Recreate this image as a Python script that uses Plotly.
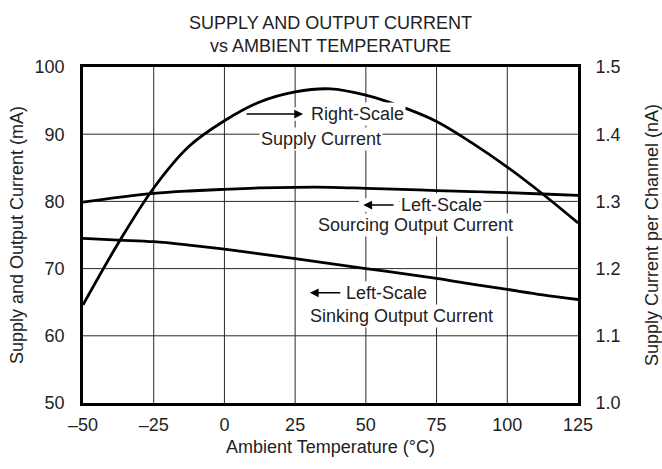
import plotly.graph_objects as go

# Ambient temperature (°C)
temperature = [-50, -37.5, -25, -12.5, 0, 12.5, 25, 37.5, 50, 62.5, 75, 87.5, 100, 112.5, 125]

# Supply current per channel (nA), right scale
supply_current = [1.146, 1.238, 1.320, 1.382, 1.420, 1.448, 1.463, 1.4675, 1.458, 1.441,
                  1.419, 1.387, 1.351, 1.311, 1.268]

# Sourcing output current (mA), left scale
sourcing_current = [79.9, 80.6, 81.2, 81.55, 81.8, 82.0, 82.1, 82.1, 81.95, 81.8,
                    81.6, 81.45, 81.3, 81.1, 80.9]

# Sinking output current (mA), left scale
sinking_current = [74.5, 74.25, 74.0, 73.5, 72.9, 72.2, 71.5, 70.75, 70.0, 69.3,
                   68.55, 67.7, 66.9, 66.1, 65.4]

x_ticks = [-50, -25, 0, 25, 50, 75, 100, 125]
x_tick_text = ["\u201350", "\u201325", "0", "25", "50", "75", "100", "125"]
y_ticks = [50, 60, 70, 80, 90, 100]

X_RANGE = [-50, 125]
Y_RANGE = [50, 100]

FONT = "Liberation Sans, Arial, sans-serif"
TXT = "#222222"
SIZE = 18
GRID = "#2a2a2a"

fig = go.Figure()

# Grid drawn as shapes between the background and the traces
for xv in x_ticks[1:-1]:
    fig.add_shape(type="line", xref="x", yref="y", layer="between",
                  x0=xv, x1=xv, y0=Y_RANGE[0], y1=Y_RANGE[1],
                  line=dict(color=GRID, width=1))
for yv in y_ticks[1:-1]:
    fig.add_shape(type="line", xref="x", yref="y", layer="between",
                  x0=X_RANGE[0], x1=X_RANGE[1], y0=yv, y1=yv,
                  line=dict(color=GRID, width=1))

line_style = dict(color="black", width=2.8, shape="spline", smoothing=1.0)

fig.add_trace(go.Scatter(x=temperature, y=sourcing_current, mode="lines",
                         line=line_style, showlegend=False, hoverinfo="skip"))
fig.add_trace(go.Scatter(x=temperature, y=sinking_current, mode="lines",
                         line=line_style, showlegend=False, hoverinfo="skip"))
fig.add_trace(go.Scatter(x=temperature, y=supply_current, mode="lines", yaxis="y2",
                         line=line_style, showlegend=False, hoverinfo="skip"))

# Curve labels (white background breaks the grid around the text)
labels = [
    ("Right-Scale", 47.2, 93.0),
    ("Supply Current", 34.1, 89.3),
    ("Left-Scale", 76.8, 79.46),
    ("Sourcing Output Current", 67.5, 76.5),
    ("Left-Scale", 57.3, 66.4),
    ("Sinking Output Current", 62.6, 62.95),
]
for text, x, y in labels:
    fig.add_annotation(x=x, y=y, text=text, showarrow=False, bgcolor="white",
                       borderpad=1, font=dict(family=FONT, size=SIZE, color=TXT))

# Arrows pointing toward the scale each curve uses: (head, tail)
arrows = [
    ((27.8, 93.0), (7.3, 93.0)),
    ((49.1, 79.46), (60.3, 79.46)),
    ((30.2, 66.4), (41.5, 66.4)),
]
for (hx, hy), (tx, ty) in arrows:
    # white strip over the grid so it is broken behind the arrow
    fig.add_shape(type="rect", xref="x", yref="y", layer="between",
                  x0=min(hx, tx) - 1.5, x1=max(hx, tx) + 1.5, y0=hy - 1.0, y1=hy + 1.0,
                  fillcolor="white", line=dict(width=0))
    fig.add_annotation(x=hx, y=hy, ax=tx, ay=ty, xref="x", yref="y",
                       axref="x", ayref="y", showarrow=True, arrowhead=2,
                       arrowsize=1.1, arrowwidth=1.6, arrowcolor="black", text="")

CLEAR = "rgba(0,0,0,0)"
axis_common = dict(showline=True, linecolor="black", linewidth=2.5, mirror=True,
                   showgrid=False, zeroline=False,
                   ticks="outside", tickcolor=CLEAR,
                   tickfont=dict(family=FONT, size=SIZE, color=TXT))

fig.update_layout(
    width=662, height=469,
    margin=dict(l=83, r=84, t=67, b=66),
    paper_bgcolor="white", plot_bgcolor="white",
    title=dict(text="SUPPLY AND OUTPUT CURRENT<br>vs AMBIENT TEMPERATURE",
               x=0.5, xanchor="center", xref="paper",
               y=1 - 28.8 / 469, yanchor="middle", yref="container",
               font=dict(family=FONT, size=SIZE, color=TXT)),
    xaxis=dict(range=X_RANGE, tickvals=x_ticks, ticktext=x_tick_text, ticklen=4,
               automargin=False,
               title=dict(text="Ambient Temperature (\u00b0C)", standoff=7,
                          font=dict(family=FONT, size=SIZE, color=TXT)),
               **axis_common),
    yaxis=dict(range=Y_RANGE, tickvals=y_ticks, ticklen=12, automargin=False,
               title=dict(text="Supply and Output Current (mA)", standoff=7,
                          font=dict(family=FONT, size=SIZE, color=TXT)),
               **axis_common),
    yaxis2=dict(range=[1.0, 1.5], dtick=0.1, tickformat=".1f", overlaying="y",
                side="right", showgrid=False, zeroline=False, showline=False,
                ticks="outside", tickcolor=CLEAR, ticklen=13, automargin=False,
                tickfont=dict(family=FONT, size=SIZE, color=TXT),
                title=dict(text="Supply Current per Channel (nA)", standoff=26,
                           font=dict(family=FONT, size=SIZE, color=TXT))),
)

fig.write_html("out.html")
